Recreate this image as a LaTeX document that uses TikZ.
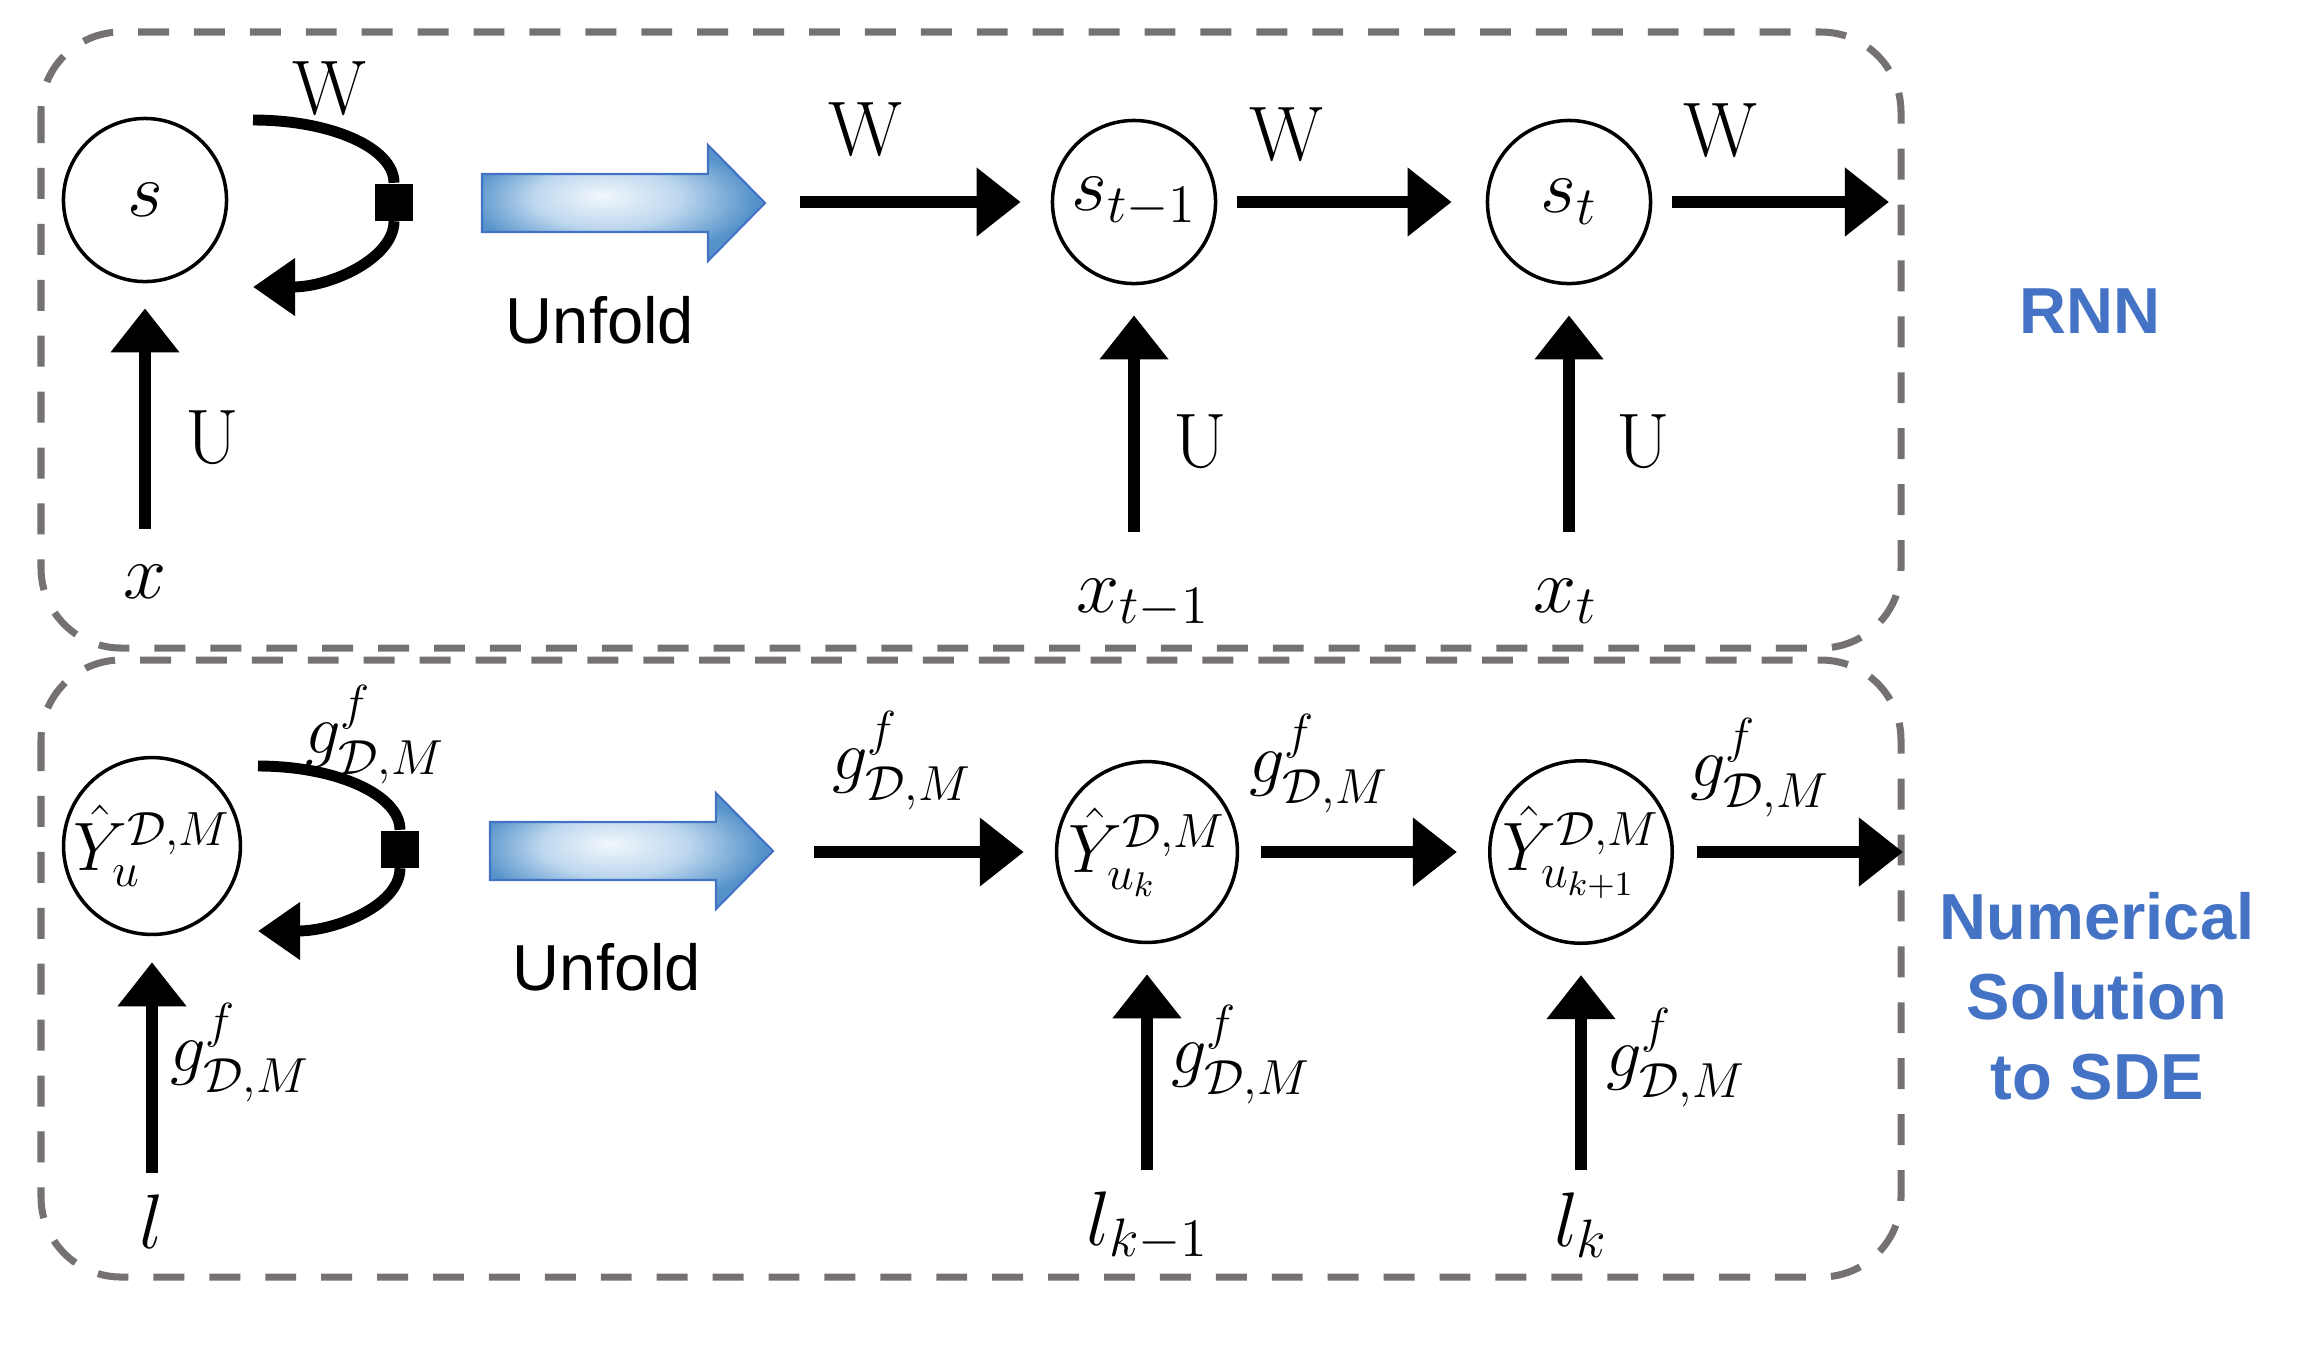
\RequirePackage{fix-cm}
\documentclass[tikz,border=0pt]{standalone}
\usepackage{amsmath}
\usepackage{fontspec}
\newfontfamily\labelsans{Liberation Sans}
\usetikzlibrary{
  arrows.meta,
  positioning
}
\definecolor{panelGray}{HTML}{767171}
\definecolor{labelBlue}{HTML}{4472C4}
\definecolor{unfoldBlue}{HTML}{5B9BD5}
\definecolor{unfoldEdge}{HTML}{4472C4}
\pgfdeclareradialshading{unfoldGlow}{\pgfpoint{-4bp}{3bp}}{%
  color(0bp)=(white!92!unfoldBlue);
  color(13bp)=(unfoldBlue!40!white);
  color(25bp)=(unfoldBlue!95!black);
  color(50bp)=(unfoldBlue!95!black)}
\tikzset{
  panelBox/.style={
    draw=panelGray,
    line width=2pt,
    dash pattern=on 8.8pt off 7.1pt,
    rounded corners=0.8cm
  },
  rnnState/.style={
    circle,
    draw=black,
    line width=1pt,
    minimum size=1.63cm,
    inner sep=0pt
  },
  rnnArrow/.style={line width=3.4pt, -{Triangle[length=4.4mm, width=6.6mm]}},
  rnnLoop/.style={line width=3.1pt},
  loopArrow/.style={rnnLoop, -{Triangle[length=4.2mm, width=5.5mm]}},
  loopSquare/.style={rectangle, fill=black, minimum size=3.7mm, inner sep=0pt},
  mathLabel/.style={font=\fontsize{22}{26}\selectfont, inner sep=0pt},
  gLabel/.style={font=\fontsize{20}{24}\selectfont, inner sep=0pt},
  stateText/.style={font=\fontsize{19.5}{23}\selectfont},
  unfoldText/.style={font=\labelsans\fontsize{18.5}{22}\selectfont, inner sep=0pt},
  modelName/.style={
    font=\labelsans\bfseries\fontsize{18.5}{22.8}\selectfont,
    text=labelBlue,
    align=center,
    inner sep=0pt
  },
  unfoldArrow/.pic={
    \shadedraw[shading=unfoldGlow, draw=unfoldEdge, line width=0.6pt]
      (0,29) -- (226,29) -- (226,58) -- (283,0) -- (226,-58)
      -- (226,-29) -- (0,-29) -- cycle;
  }
}

\begin{document}
\begin{tikzpicture}[x=0.01cm,y=0.01cm]
  \useasboundingbox (0,0) rectangle (2318,-1350);

  % RNN panel
  \draw[panelBox] (41,-32) rectangle (1901,-648);

  \node[rnnState, mathLabel] (s) at (145,-200) {$s$};
  \coordinate (sLoopIn) at (253,-120);
  \node[loopSquare] (sSq) at (394,-202) {};
  \coordinate (sLoopOut) at (253,-287);
  \draw[rnnLoop] (sLoopIn) .. controls +(78,0) and +(0,35) .. (sSq.north);
  \draw[loopArrow] (sSq.south) .. controls +(0,-37) and +(78,0) .. (sLoopOut);
  \node[mathLabel, anchor=base] (wLoop) at (329,-114) {W};

  \coordinate (xTail) at (145,-529);
  \draw[rnnArrow, shorten >=0.25cm] (xTail) -- (s);
  \node[mathLabel, anchor=base] (uIn) at (212,-463) {U};
  \node[mathLabel, anchor=base] (x) at (145,-598) {$x$};

  \pic at (482,-203) {unfoldArrow};
  \node[unfoldText] (unfoldTop) at (600,-320) {Unfold};

  \coordinate (wIn) at (800,-202);
  \node[rnnState, mathLabel] (sPrev) at (1134,-202) {$s_{t-1}$};
  \node[rnnState, mathLabel] (sCur) at (1569,-202) {$s_t$};
  \coordinate (wOut) at (1889,-202);
  \draw[rnnArrow, shorten >=0.3cm] (wIn) -- (sPrev);
  \draw[rnnArrow, shorten <=0.2cm, shorten >=0.34cm] (sPrev) -- (sCur);
  \draw[rnnArrow, shorten <=0.2cm] (sCur) -- (wOut);
  \node[mathLabel, anchor=base] (wA) at (865,-155) {W};
  \node[mathLabel, anchor=base] (wB) at (1286,-160) {W};
  \node[mathLabel, anchor=base] (wC) at (1720,-156) {W};

  \coordinate (xPrevTail) at (1134,-532);
  \coordinate (xCurTail) at (1569,-532);
  \draw[rnnArrow, shorten >=0.3cm] (xPrevTail) -- (sPrev);
  \draw[rnnArrow, shorten >=0.3cm] (xCurTail) -- (sCur);
  \node[mathLabel, anchor=base] (uA) at (1200,-467) {U};
  \node[mathLabel, anchor=base] (uB) at (1643,-467) {U};
  \node[mathLabel, anchor=base] (xPrev) at (1143,-612) {$x_{t-1}$};
  \node[mathLabel, anchor=base] (xCur) at (1565,-612) {$x_t$};

  \node[modelName] (rnnName) at (2090,-311) {RNN};

  % SDE panel
  \draw[panelBox] (41,-660) rectangle (1901,-1277);

  \node[rnnState, stateText] (y) at (152,-846) {$\hat{Y}_u^{\mathcal{D},M}$};
  \coordinate (yLoopIn) at (258,-766);
  \node[loopSquare] (ySq) at (400,-849) {};
  \coordinate (yLoopOut) at (258,-931);
  \draw[rnnLoop] (yLoopIn) .. controls +(78,0) and +(0,35) .. (ySq.north);
  \draw[loopArrow] (ySq.south) .. controls +(0,-37) and +(78,0) .. (yLoopOut);
  \node[gLabel] (gLoop) at (375,-735) {$g^{f}_{\mathcal{D},M}$};

  \coordinate (lTail) at (152,-1173);
  \draw[rnnArrow, shorten >=0.26cm] (lTail) -- (y);
  \node[gLabel] (gIn) at (240,-1053) {$g^{f}_{\mathcal{D},M}$};
  \node[mathLabel, anchor=base] (l) at (152,-1248) {$l$};

  \pic at (490,-851) {unfoldArrow};
  \node[unfoldText] (unfoldBottom) at (607,-967) {Unfold};

  \coordinate (gHead) at (814,-852);
  \node[rnnState, stateText] (yPrev) at (1147,-852) {$\hat{Y}_{u_k}^{\mathcal{D},M}$};
  \node[rnnState, stateText] (yCur) at (1581,-852) {$\hat{Y}_{u_{k+1}}^{\mathcal{D},M}$};
  \coordinate (gTail) at (1903,-852);
  \draw[rnnArrow, shorten >=0.31cm] (gHead) -- (yPrev);
  \draw[rnnArrow, shorten <=0.22cm, shorten >=0.31cm] (yPrev) -- (yCur);
  \draw[rnnArrow, shorten <=0.23cm] (yCur) -- (gTail);
  \node[gLabel] (gA) at (902,-761) {$g^{f}_{\mathcal{D},M}$};
  \node[gLabel] (gB) at (1319,-764) {$g^{f}_{\mathcal{D},M}$};
  \node[gLabel] (gC) at (1760,-768) {$g^{f}_{\mathcal{D},M}$};

  \coordinate (lPrevTail) at (1147,-1170);
  \coordinate (lCurTail) at (1581,-1170);
  \draw[rnnArrow, shorten >=0.3cm] (lPrevTail) -- (yPrev);
  \draw[rnnArrow, shorten >=0.3cm] (lCurTail) -- (yCur);
  \node[gLabel] (gUpA) at (1241,-1055) {$g^{f}_{\mathcal{D},M}$};
  \node[gLabel] (gUpB) at (1676,-1058) {$g^{f}_{\mathcal{D},M}$};
  \node[mathLabel, anchor=base] (lPrev) at (1148,-1245) {$l_{k-1}$};
  \node[mathLabel, anchor=base] (lCur) at (1581,-1246) {$l_k$};

  \node[modelName] (sdeName) at (2097,-996) {Numerical\\Solution\\to SDE};
\end{tikzpicture}
\end{document}
